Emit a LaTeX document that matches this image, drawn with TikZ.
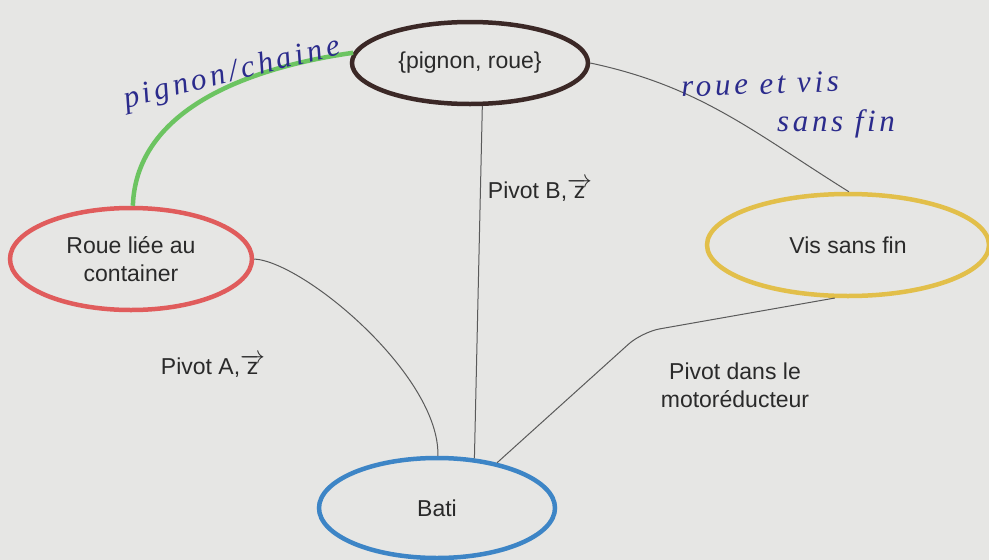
\documentclass[tikz,border=0pt]{standalone}
\usepackage{fontspec}
\setmainfont{Liberation Sans}
\newfontfamily\handfont{Liberation Serif}[LetterSpace=12]
\usetikzlibrary{shapes.geometric}

\definecolor{paper}{RGB}{230,230,228}
\definecolor{ink}{RGB}{42,42,42}
\definecolor{pen}{RGB}{43,43,140}
\definecolor{wire}{RGB}{90,90,90}
\definecolor{brun}{RGB}{59,40,38}
\definecolor{rouge}{RGB}{224,92,92}
\definecolor{jaune}{RGB}{226,191,74}
\definecolor{bleu}{RGB}{61,133,198}
\definecolor{vert}{RGB}{108,196,97}

\begin{document}
\begin{tikzpicture}[x=1pt, y=-1pt,
    every node/.style = {font=\fontsize{23}{28}\selectfont, text=ink, align=center},
    part/.style = {ellipse, draw, line width=4.5pt, inner sep=0pt},
    every edge/.style = {draw, wire, line width=1pt},
    hand/.style = {font=\handfont\itshape\fontsize{31}{34}\selectfont, text=pen}]
  \fill[paper] (0,0) rectangle (989,560);
  \useasboundingbox (0,0) rectangle (989,560);

  % classes d'equivalence
  \node (pig)  [part, draw=brun,  minimum width=236, minimum height=82]  at (470,63)  {\{pignon, roue\}};
  \node (roue) [part, draw=rouge, minimum width=242, minimum height=102] at (131,259) {Roue liée au\\container};
  \node (vis)  [part, draw=jaune, minimum width=282, minimum height=102] at (848,245) {Vis sans fin};
  \node (bati) [part, draw=bleu,  minimum width=236, minimum height=100] at (437,508) {Bati};

  % liaisons
  \draw (pig.-74) edge (bati.53);
  \draw[wire, line width=1pt] (roue.0) .. controls +(50,3) and +(2,-80) .. (bati.89);
  \draw (pig.0)   edge[out=-12, in=148] (vis.89);
  \coordinate (coude) at (642,332);
  \draw[wire, line width=1pt, rounded corners=18pt] (vis.-104) -- (coude) -- (bati.37);
  \draw[vert, line width=4.5pt] (roue.88) to[out=88, in=188, looseness=0.95] (pig.175);

  % noms des liaisons
  \node (pivB) at (540,190) {Pivot B,$\overrightarrow{\mbox{z}}$};
  \node (pivA) at (213,366) {Pivot A,$\overrightarrow{\mbox{z}}$};
  \node (pivM) at (735,385) {Pivot dans le\\motoréducteur};
  \node (chaine) [hand, rotate=14] at (232,74) {pignon/chaine};
  \node (rvsf1)  [hand, rotate=2]  at (760,84)  {roue et vis};
  \node (rvsf2)  [hand]            at (836,124) {sans fin};
\end{tikzpicture}
\end{document}
